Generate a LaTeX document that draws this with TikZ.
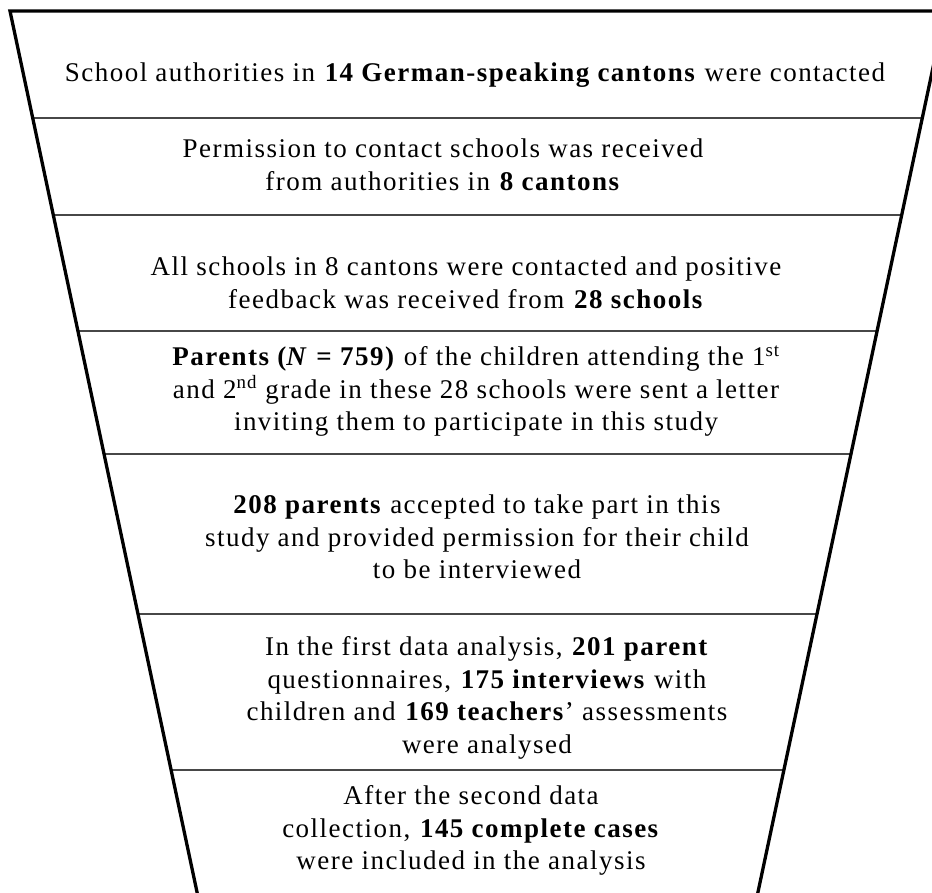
\documentclass[tikz,border=0pt]{standalone}
\usepackage{fontspec}
\setmainfont{Liberation Serif}[LetterSpace=5.5]
\usetikzlibrary{calc}
\begin{document}
\begin{tikzpicture}[x=1pt,y=-1pt,
  rim/.style={line width=3.3pt, line join=miter},
  divider/.style={line width=1.7pt, draw=black!72},
  stage/.style={align=center, inner sep=0pt, font=\fontsize{27}{32.5}\selectfont}]
\useasboundingbox (0,0) rectangle (932,892);
% funnel corners (the lower ones lie just below the page edge)
\coordinate (TL) at (10,11);
\coordinate (TR) at (945,11);
\coordinate (BL) at (198.7,900);
\coordinate (BR) at (756.3,900);
\begin{scope}
  \clip (0,0) rectangle (932,892);
  % horizontal separators between the stages
  \foreach \t in {0.1204,0.2295,0.3600,0.4983,0.6783,0.8538}
    \draw[divider] ($(TL)!\t!(BL)$) -- ($(TR)!\t!(BR)$);
  % funnel outline
  \draw[rim] (BL) -- (TL) -- (TR) -- (BR);
\end{scope}
% stage texts
\node[stage] (s1) at (475,74.5) {\strut School authorities in \textbf{14 German-speaking cantons} were contacted\strut};
\node[stage] (s2) at (443,167.5) {\strut Permission to contact schools was received\\
  from authorities in \textbf{8 cantons}\strut};
\node[stage] (s3) at (466,285.5) {\strut All schools in 8 cantons were contacted and positive\\
  feedback was received from \textbf{28 schools}\strut};
\node[stage] (s4) at (476,391.5) {\strut\textbf{Parents (\textit{N} = 759)} of the children attending the 1\textsuperscript{st}\\
  and 2\textsuperscript{nd} grade in these 28 schools were sent a letter\\
  inviting them to participate in this study\strut};
\node[stage] (s5) at (477,539.5) {\strut\textbf{208 parents} accepted to take part in this\\
  study and provided permission for their child\\
  to be interviewed\strut};
\node[stage] (s6) at (487,698) {\strut In the first data analysis, \textbf{201 parent}\\
  questionnaires, \textbf{175 interviews} with\\
  children and \textbf{169 teachers}’ assessments\\
  were analysed\strut};
\node[stage] (s7) at (471,830.5) {\strut After the second data\\
  collection, \textbf{145 complete cases}\\
  were included in the analysis\strut};
\end{tikzpicture}
\end{document}
